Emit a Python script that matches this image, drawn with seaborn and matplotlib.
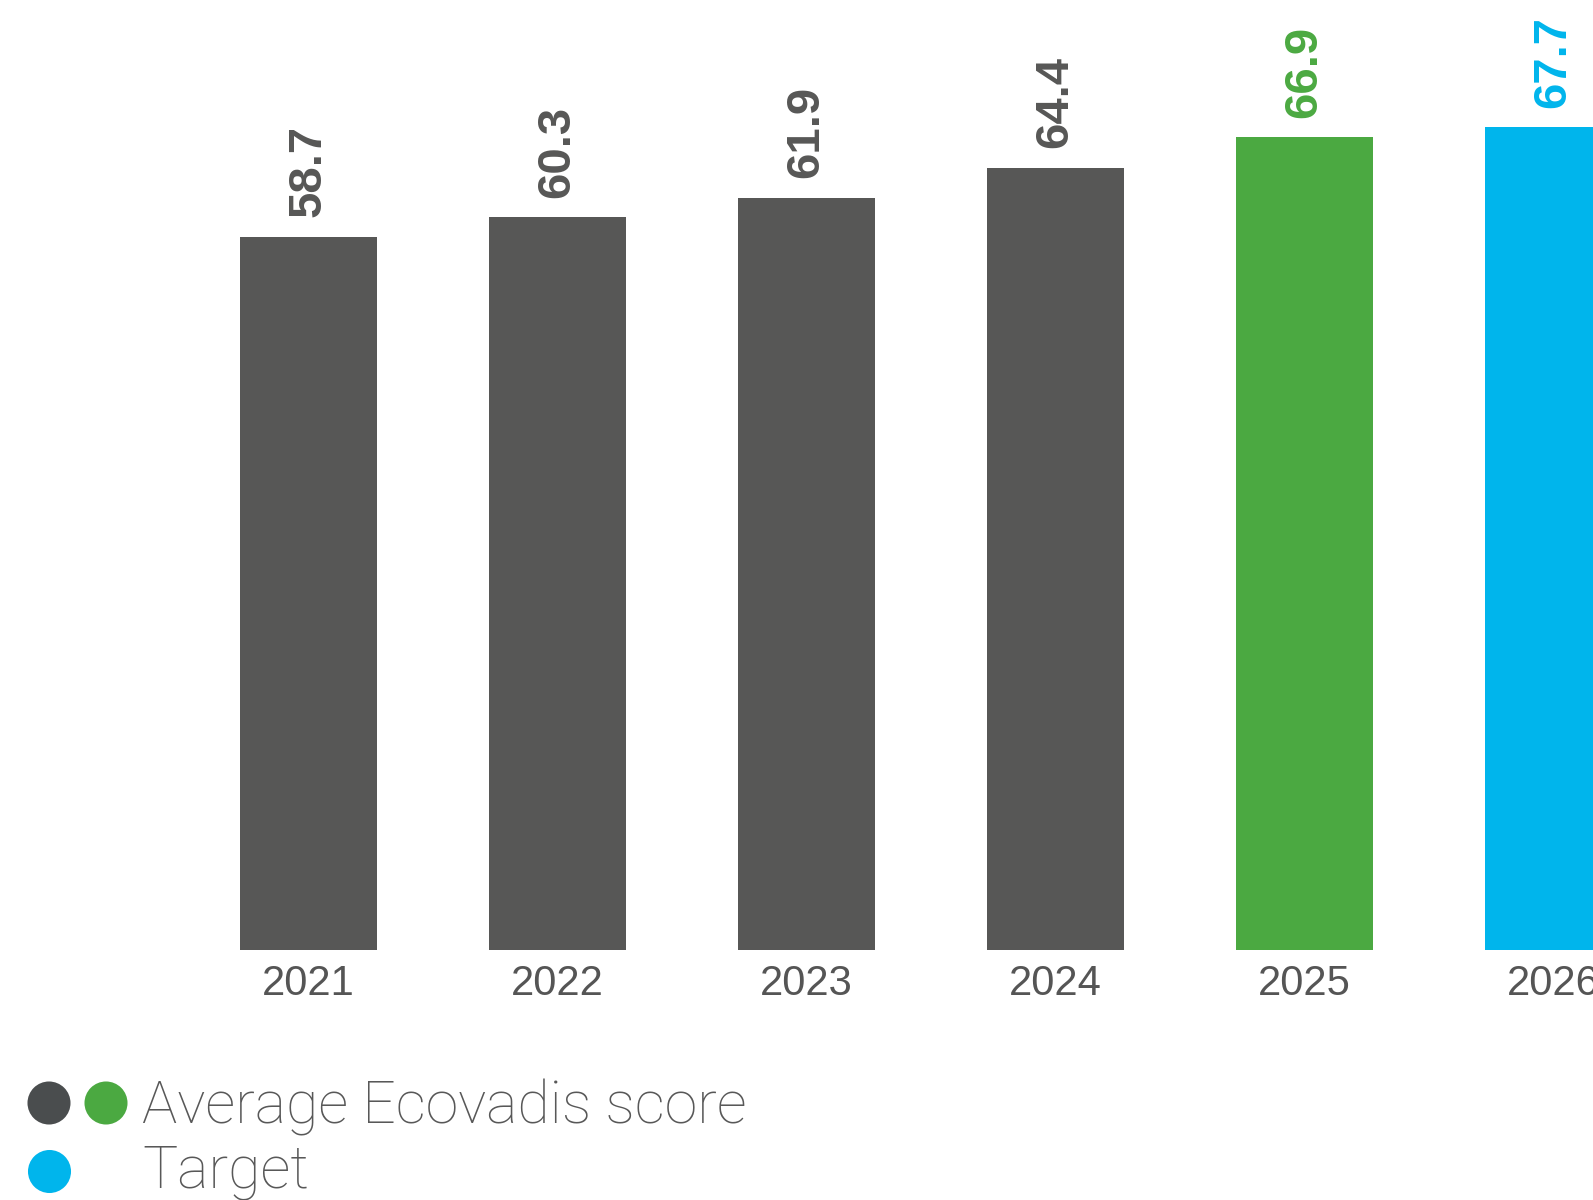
import matplotlib
matplotlib.use("Agg")
import matplotlib.pyplot as plt
import seaborn as sns
import pandas as pd

# Ecovadis score by year
years = ["2021", "2022", "2023", "2024", "2025", "2026"]
scores = [58.7, 60.3, 61.9, 64.4, 66.9, 67.7]
bar_colors = ["#575756", "#575756", "#575756", "#575756", "#4BA941", "#00B5EC"]
legend_labels = ["Average Ecovadis score", "Target"]

df = pd.DataFrame({"year": years, "score": scores})

sns.set_theme(style="white")
plt.rcParams["font.family"] = ["Liberation Sans", "DejaVu Sans"]

W, H = 1593, 1200
fig = plt.figure(figsize=(W / 100, H / 100), dpi=100)
fig.patch.set_facecolor("white")

base_px = 950          # baseline, pixels from top
px_per_unit = 12.15
ax = fig.add_axes([0, (H - base_px) / H, 1, base_px / H])
sns.barplot(data=df, x="year", y="score", hue="year", palette=bar_colors,
            width=0.55, linewidth=0, saturation=1, legend=False, ax=ax)

ax.set_ylim(0, base_px / px_per_unit)
step = 249
first = 308.4
ax.set_xlim(-first / step, (W - first) / step)
ax.set_xlabel("")
ax.set_ylabel("")
ax.set_yticks([])
for s in ax.spines.values():
    s.set_visible(False)
ax.tick_params(axis="x", length=0, pad=10, labelsize=30, labelcolor="#555555")

for cont, col in zip(ax.containers, bar_colors):
    ax.bar_label(cont, fmt="%.1f", rotation=90, padding=14,
                 fontsize=34, fontweight="bold", color=col)

# legend drawn in pixel space below the bars
lg = fig.add_axes([0, 0, 1, 1], facecolor="none")
lg.set_xlim(0, W)
lg.set_ylim(H, 0)
lg.axis("off")
lg.scatter([49, 106], [1103, 1103], s=960, c=["#4A4D4E", "#4BA941"], linewidths=0)
lg.scatter([49], [1171], s=960, c=["#00B5EC"], linewidths=0)
for label, yy in zip(legend_labels, [1107, 1172]):
    lg.text(142, yy, label, fontsize=42.5, color="#585858",
            va="center", ha="left", family=["Roboto", "DejaVu Sans"], fontweight="light")

fig.savefig("out.png", dpi=100, facecolor="white")
